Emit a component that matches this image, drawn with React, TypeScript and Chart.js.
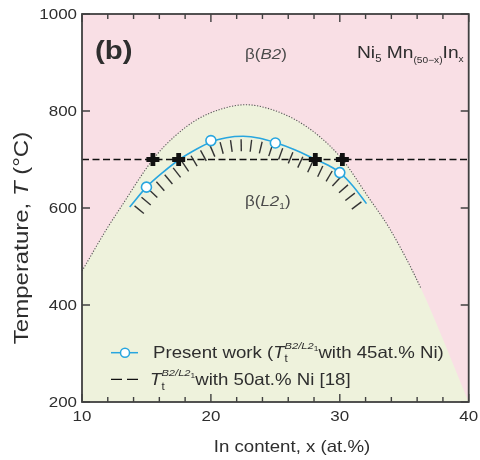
import React, { useEffect, useRef } from "react";
import { Chart, registerables } from "chart.js";

Chart.register(...registerables);

// Dotted B2 / L2_1 boundary (upper edge of the L2_1 field)
const boundaryX = [10, 11.9, 12.9, 15.5, 17.2, 18.9, 20.8, 22.7, 24.6, 26.55, 28.4, 30.2, 32.2, 33.9, 36.3, 40];
const boundaryT = [470, 556, 597, 700, 748, 782, 804, 813, 804, 782, 748, 700, 623, 556, 434, 200];

// Fitted transition curve for 45 at.% Ni
const fitX = [13.7, 15, 16.3, 17.56, 18.8, 20, 21.2, 22.5, 23.8, 25, 26.5, 28.14, 29.1, 30, 31, 32.07];
const fitT = [602, 643, 674, 700, 720, 736, 745, 748, 744, 735, 720, 700, 688, 673, 646, 609];

// Present work measurements
const presentX = [15, 20, 25, 30];
const presentT = [643, 739, 734, 673];

// 50 at.% Ni transition temperature [18]
const refLineX = [10, 40];
const refLineT = [700, 700];

// Intersections with the 700 °C line
const crossX = [15.5, 17.5, 28.1, 30.2];
const crossT = [700, 700, 700, 700];

// Axis ticks
const xTickValues = [10, 20, 30, 40];
const xMinorStep = 2;
const yTickValues = [200, 400, 600, 800, 1000];

const PINK = "#f9dfe5";
const GREEN = "#eef2dc";
const BLUE = "#28a6df";
const INK = "#2e2e2e";
const FRAME = "#404040";
const FAMILY = '"Liberation Sans", Arial, Helvetica, sans-serif';
const SX = 1.13; // lettering is set slightly wide

const pts = (xs: number[], ys: number[]) => xs.map((x, i) => ({ x, y: ys[i] }));
const f = (size: number, style = "") => `${style} ${size}px ${FAMILY}`.trim();

type Run = { t: string; font: string; dy?: number; color?: string; stackNext?: boolean };

function runsWidth(ctx: CanvasRenderingContext2D, runs: Run[], sx: number) {
  let w = 0;
  let pending = 0;
  for (const r of runs) {
    ctx.font = r.font;
    const rw = ctx.measureText(r.t).width * sx;
    if (r.stackNext) {
      pending = Math.max(pending, rw);
    } else {
      w += Math.max(pending, rw);
      pending = 0;
    }
  }
  return w + pending;
}

function drawRuns(
  ctx: CanvasRenderingContext2D,
  x: number,
  y: number,
  runs: Run[],
  align: "left" | "center" | "right" = "left",
  sx = SX
) {
  const total = runsWidth(ctx, runs, sx);
  let cx = align === "center" ? x - total / 2 : align === "right" ? x - total : x;
  let pending = 0;
  ctx.textAlign = "left";
  ctx.textBaseline = "alphabetic";
  for (const r of runs) {
    ctx.font = r.font;
    ctx.fillStyle = r.color || INK;
    const rw = ctx.measureText(r.t).width * sx;
    ctx.save();
    ctx.translate(cx, y + (r.dy || 0));
    ctx.scale(sx, 1);
    ctx.fillText(r.t, 0, 0);
    ctx.restore();
    if (r.stackNext) {
      pending = Math.max(pending, rw);
    } else {
      cx += Math.max(pending, rw);
      pending = 0;
    }
  }
}

// T_t^{B2/L2_1} symbol
const transitionSymbol = (size: number): Run[] => [
  { t: "T", font: f(size, "italic") },
  { t: "t", font: f(size * 0.62), dy: size * 0.3, stackNext: true },
  { t: "B2/L2", font: f(size * 0.6, "italic"), dy: -size * 0.52 },
  { t: "1", font: f(size * 0.45), dy: -size * 0.4 },
];

function drawHatch(chart: Chart) {
  const meta = chart.getDatasetMeta(3);
  const line: any = meta.dataset;
  if (line && line.updateControlPoints) line.updateControlPoints(chart.chartArea, "x");
  const p: any[] = meta.data as any[];
  const samples: { x: number; y: number }[] = [];
  for (let i = 0; i < p.length - 1; i++) {
    const a = p[i];
    const b = p[i + 1];
    const x0 = a.x, y0 = a.y;
    const x1 = a.cp2x ?? a.x, y1 = a.cp2y ?? a.y;
    const x2 = b.cp1x ?? b.x, y2 = b.cp1y ?? b.y;
    const x3 = b.x, y3 = b.y;
    const n = 30;
    for (let k = 0; k < n; k++) {
      const t = k / n;
      const u = 1 - t;
      samples.push({
        x: u * u * u * x0 + 3 * u * u * t * x1 + 3 * u * t * t * x2 + t * t * t * x3,
        y: u * u * u * y0 + 3 * u * u * t * y1 + 3 * u * t * t * y2 + t * t * t * y3,
      });
    }
  }
  const last = p[p.length - 1];
  samples.push({ x: last.x, y: last.y });

  const ctx = chart.ctx;
  ctx.save();
  ctx.strokeStyle = "#333";
  ctx.lineWidth = 1.4;
  ctx.lineCap = "butt";
  const spacing = 11;
  let acc = 0;
  let next = 4;
  for (let i = 0; i < samples.length - 1; i++) {
    const s0 = samples[i];
    const s1 = samples[i + 1];
    const dx = s1.x - s0.x;
    const dy = s1.y - s0.y;
    const len = Math.hypot(dx, dy);
    if (len === 0) continue;
    while (acc + len >= next) {
      const t = (next - acc) / len;
      const px = s0.x + dx * t;
      const py = s0.y + dy * t;
      let nx = -dy / len;
      let ny = dx / len;
      if (ny < 0) {
        nx = -nx;
        ny = -ny;
      }
      ctx.beginPath();
      ctx.moveTo(px + nx * 3, py + ny * 3);
      ctx.lineTo(px + nx * 15, py + ny * 15);
      ctx.stroke();
      next += spacing;
    }
    acc += len;
  }
  ctx.restore();
}

const decorations = {
  id: "decorations",
  beforeDatasetsDraw(chart: Chart) {
    const { ctx, chartArea: a } = chart;
    ctx.save();
    ctx.fillStyle = PINK;
    ctx.fillRect(a.left, a.top, a.right - a.left, a.bottom - a.top);
    ctx.restore();
  },
  beforeDatasetDraw(chart: Chart, args: any) {
    if (args.index === 3) drawHatch(chart);
  },
  afterDraw(chart: Chart) {
    const { ctx, chartArea: a } = chart;
    const xs: any = chart.scales.x;
    const ys: any = chart.scales.y;

    ctx.save();
    // frame
    ctx.strokeStyle = FRAME;
    ctx.lineWidth = 1.8;
    ctx.strokeRect(a.left, a.top, a.right - a.left, a.bottom - a.top);

    // inward ticks
    ctx.lineWidth = 1.4;
    ctx.beginPath();
    for (let v = xs.min; v <= xs.max + 1e-9; v += xMinorStep) {
      const px = xs.getPixelForValue(v);
      const major = xTickValues.includes(v);
      const len = major ? 8 : 5;
      ctx.moveTo(px, a.bottom);
      ctx.lineTo(px, a.bottom - len);
      ctx.moveTo(px, a.top);
      ctx.lineTo(px, a.top + len);
    }
    for (const v of yTickValues) {
      const py = ys.getPixelForValue(v);
      ctx.moveTo(a.left, py);
      ctx.lineTo(a.left + 8, py);
      ctx.moveTo(a.right, py);
      ctx.lineTo(a.right - 8, py);
    }
    ctx.stroke();

    // tick labels
    for (const v of xTickValues) {
      drawRuns(ctx, xs.getPixelForValue(v), a.bottom + 19, [{ t: String(v), font: f(15) }], "center");
    }
    for (const v of yTickValues) {
      drawRuns(ctx, a.left - 5, ys.getPixelForValue(v) + 5.4, [{ t: String(v), font: f(15) }], "right");
    }

    // axis titles
    drawRuns(ctx, 292, 452, [{ t: "In content, x (at.%)", font: f(16.5) }], "center");
    ctx.save();
    ctx.translate(28, 238);
    ctx.rotate(-Math.PI / 2);
    drawRuns(
      ctx,
      0,
      0,
      [
        { t: "Temperature, ", font: f(20) },
        { t: "T", font: f(20, "italic") },
        { t: " (°C)", font: f(20) },
      ],
      "center",
      1.2
    );
    ctx.restore();

    // panel annotations
    drawRuns(ctx, 95, 59, [{ t: "(b)", font: f(26, "bold") }]);
    drawRuns(ctx, 245, 59, [
      { t: "β(", font: f(15), color: "#4a4a4a" },
      { t: "B2", font: f(15, "italic"), color: "#4a4a4a" },
      { t: ")", font: f(15), color: "#4a4a4a" },
    ]);
    drawRuns(ctx, 357, 58, [
      { t: "Ni", font: f(17) },
      { t: "5", font: f(10), dy: 4 },
      { t: " Mn", font: f(17) },
      { t: "(50−x)", font: f(9), dy: 5 },
      { t: "In", font: f(17) },
      { t: "x", font: f(9), dy: 4 },
    ]);
    drawRuns(ctx, 245, 206, [
      { t: "β(", font: f(15), color: "#4a4a4a" },
      { t: "L2", font: f(15, "italic"), color: "#4a4a4a" },
      { t: "1", font: f(9), dy: 3, color: "#4a4a4a" },
      { t: ")", font: f(15), color: "#4a4a4a" },
    ]);

    // legend
    const ly1 = 352.7;
    ctx.strokeStyle = BLUE;
    ctx.lineWidth = 1.5;
    ctx.setLineDash([]);
    ctx.beginPath();
    ctx.moveTo(111, ly1);
    ctx.lineTo(138, ly1);
    ctx.stroke();
    ctx.beginPath();
    ctx.arc(125, ly1, 4.5, 0, Math.PI * 2);
    ctx.fillStyle = "#fff";
    ctx.fill();
    ctx.stroke();
    drawRuns(ctx, 153, 357.5, [
      { t: "Present work (", font: f(16.5) },
      ...transitionSymbol(16.5),
      { t: "with 45at.% Ni)", font: f(16.5) },
    ]);

    const ly2 = 379.3;
    ctx.strokeStyle = "#111";
    ctx.lineWidth = 1.3;
    ctx.beginPath();
    ctx.moveTo(111, ly2);
    ctx.lineTo(122, ly2);
    ctx.moveTo(127, ly2);
    ctx.lineTo(138, ly2);
    ctx.stroke();
    drawRuns(ctx, 150, 385, [...transitionSymbol(16.5), { t: "with 50at.% Ni [18]", font: f(16.5) }]);

    ctx.restore();
  },
};

export default function App() {
  const canvasRef = useRef<HTMLCanvasElement>(null);

  useEffect(() => {
    if (!canvasRef.current) return;
    const chart = new Chart(canvasRef.current, {
      type: "line",
      data: {
        datasets: [
          {
            label: "L21 field",
            data: pts(boundaryX, boundaryT),
            borderWidth: 0,
            borderColor: "rgba(0,0,0,0)",
            backgroundColor: GREEN,
            fill: "start",
            pointRadius: 0,
            cubicInterpolationMode: "monotone",
            order: 10,
          },
          {
            label: "B2/L21 boundary",
            data: pts(boundaryX, boundaryT),
            borderColor: "#555",
            borderWidth: 1.1,
            borderDash: [1.2, 1.6],
            fill: false,
            pointRadius: 0,
            cubicInterpolationMode: "monotone",
            segment: {
              borderColor: (c: any) => (c.p0.parsed.x >= 36 ? "rgba(0,0,0,0)" : "#555"),
            },
            order: 9,
          },
          {
            label: "50at.% Ni [18]",
            data: pts(refLineX, refLineT),
            borderColor: "#111",
            borderWidth: 1.3,
            borderDash: [7, 3.5],
            fill: false,
            pointRadius: 0,
            order: 8,
          },
          {
            label: "fit",
            data: pts(fitX, fitT),
            borderColor: BLUE,
            borderWidth: 1.6,
            fill: false,
            pointRadius: 0,
            cubicInterpolationMode: "monotone",
            order: 6,
          },
          {
            label: "Present work",
            data: pts(presentX, presentT),
            showLine: false,
            pointRadius: 5,
            pointBorderWidth: 1.6,
            pointBorderColor: BLUE,
            pointBackgroundColor: "#fff",
            order: 2,
          },
          {
            label: "700 °C crossings",
            data: pts(crossX, crossT),
            showLine: false,
            pointStyle: "cross",
            pointRadius: 6.5,
            pointBorderWidth: 4.8,
            pointBorderColor: "#111",
            pointBackgroundColor: "#111",
            order: 1,
          },
        ],
      },
      options: {
        responsive: false,
        animation: false,
        devicePixelRatio: 1,
        layout: { padding: { left: 82, top: 14, right: 9, bottom: 58 } },
        scales: {
          x: { type: "linear", min: 10, max: 40, display: false },
          y: { type: "linear", min: 200, max: 1000, display: false },
        },
        plugins: {
          legend: { display: false },
          tooltip: { enabled: false },
        },
      },
      plugins: [decorations],
    });
    return () => chart.destroy();
  }, []);

  return (
    <div style={{ position: "fixed", left: 0, top: 0, width: 480, height: 460, background: "#fff" }}>
      <canvas ref={canvasRef} width={480} height={460} style={{ display: "block" }} />
    </div>
  );
}
